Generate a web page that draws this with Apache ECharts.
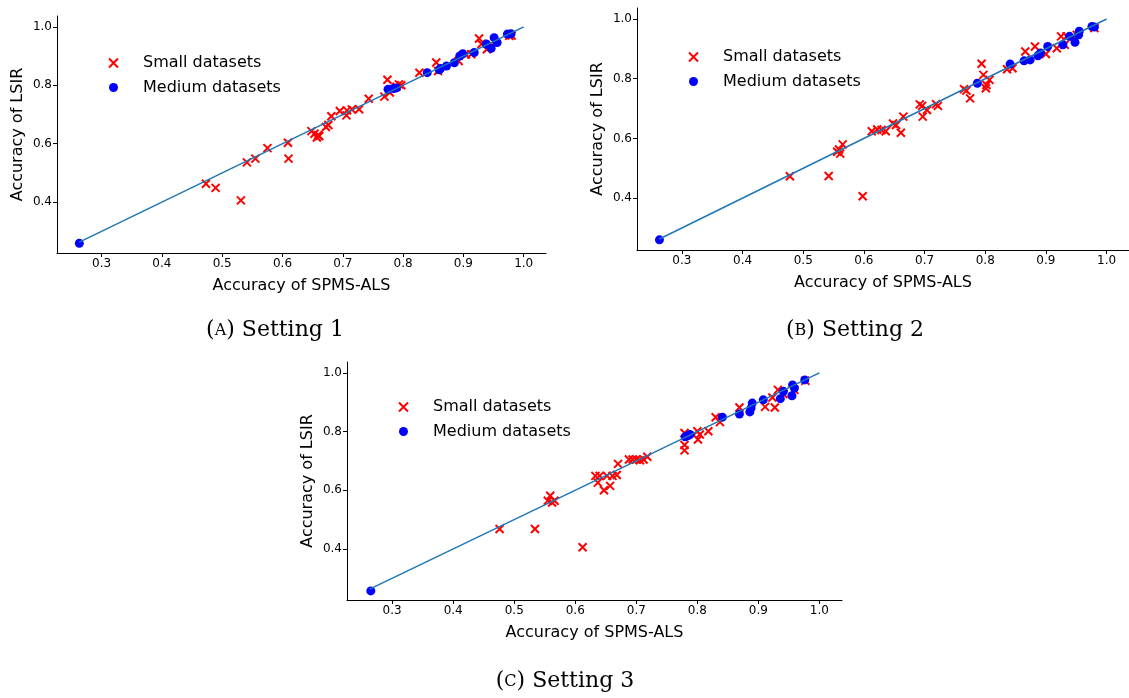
<!DOCTYPE html>
<html>
<head>
<meta charset="utf-8">
<script src="https://cdn.jsdelivr.net/npm/echarts@6/dist/echarts.min.js"></script>
<style>
html,body{margin:0;padding:0;background:#fff;}
#chart{width:1129px;height:698px;}
</style>
</head>
<body>
<div id="chart"></div>
<script>
// ---------- data ----------
const xTicks = [0.3, 0.4, 0.5, 0.6, 0.7, 0.8, 0.9, 1.0];
const yTicks = [0.4, 0.6, 0.8, 1.0];
const legendNames = ['Small datasets', 'Medium datasets'];
const captions = ['Setting 1', 'Setting 2', 'Setting 3'];
const captionLetters = ['A', 'B', 'C'];
const xName = 'Accuracy of SPMS-ALS';
const yName = 'Accuracy of LSIR';
const diagEnds = [0.263, 1.0];

const smallA = [
  [0.473,0.463],[0.489,0.449],[0.531,0.406],[0.541,0.536],[0.555,0.549],[0.575,0.585],
  [0.609,0.603],[0.610,0.549],[0.648,0.643],[0.653,0.634],[0.657,0.621],[0.659,0.629],
  [0.661,0.626],[0.672,0.657],[0.676,0.664],[0.681,0.694],[0.695,0.712],[0.706,0.697],
  [0.707,0.714],[0.715,0.717],[0.727,0.718],[0.743,0.754],[0.769,0.761],[0.774,0.819],
  [0.778,0.775],[0.789,0.795],[0.793,0.803],[0.797,0.800],[0.827,0.843],[0.855,0.878],
  [0.858,0.849],[0.892,0.883],[0.904,0.905],[0.913,0.906],[0.926,0.960],[0.930,0.941],
  [0.939,0.923],[0.945,0.935],[0.976,0.969],[0.980,0.970]
];
const mediumA = [
  [0.263,0.259],[0.775,0.786],[0.784,0.789],[0.789,0.791],[0.840,0.843],[0.860,0.853],
  [0.862,0.857],[0.872,0.866],[0.885,0.877],[0.894,0.900],[0.899,0.908],[0.918,0.912],
  [0.938,0.941],[0.946,0.926],[0.951,0.963],[0.956,0.946],[0.973,0.975],[0.979,0.976]
];
const smallB = [
  [0.478,0.473],[0.542,0.474],[0.598,0.406],[0.556,0.555],[0.561,0.549],[0.565,0.580],
  [0.559,0.563],[0.613,0.624],[0.622,0.630],[0.629,0.628],[0.636,0.624],[0.648,0.650],
  [0.653,0.645],[0.661,0.619],[0.665,0.673],[0.692,0.714],[0.696,0.709],[0.697,0.673],
  [0.704,0.695],[0.719,0.715],[0.722,0.709],[0.765,0.765],[0.769,0.760],[0.775,0.734],
  [0.794,0.850],[0.797,0.813],[0.802,0.779],[0.801,0.768],[0.807,0.796],[0.836,0.832],
  [0.845,0.835],[0.866,0.891],[0.882,0.908],[0.900,0.883],[0.918,0.902],[0.925,0.942],
  [0.931,0.914],[0.934,0.942],[0.951,0.947],[0.980,0.970]
];
const mediumB = [
  [0.263,0.260],[0.787,0.785],[0.841,0.849],[0.864,0.860],[0.874,0.863],[0.887,0.877],
  [0.891,0.886],[0.903,0.908],[0.928,0.914],[0.939,0.942],[0.948,0.922],[0.955,0.959],
  [0.954,0.947],[0.976,0.975],[0.980,0.973]
];
const smallC = [
  [0.476,0.468],[0.534,0.468],[0.612,0.406],[0.555,0.564],[0.559,0.581],[0.562,0.558],
  [0.566,0.564],[0.633,0.649],[0.637,0.626],[0.640,0.649],[0.647,0.600],[0.652,0.649],
  [0.657,0.615],[0.661,0.649],[0.668,0.652],[0.670,0.690],[0.688,0.705],[0.694,0.705],
  [0.700,0.705],[0.706,0.702],[0.712,0.705],[0.718,0.714],[0.779,0.795],[0.779,0.754],
  [0.779,0.736],[0.800,0.801],[0.801,0.773],[0.804,0.790],[0.818,0.801],[0.830,0.849],
  [0.837,0.832],[0.869,0.882],[0.911,0.884],[0.923,0.916],[0.927,0.882],[0.932,0.942],
  [0.941,0.928],[0.959,0.942],[0.977,0.973]
];
const mediumC = [
  [0.265,0.257],[0.780,0.782],[0.785,0.786],[0.788,0.790],[0.841,0.849],[0.869,0.860],
  [0.886,0.867],[0.888,0.880],[0.890,0.897],[0.908,0.908],[0.936,0.912],[0.941,0.937],
  [0.955,0.922],[0.956,0.959],[0.959,0.948],[0.976,0.976]
];

// ---------- layout ----------
const panels = [
  {small: smallA, medium: mediumA, grid: {left: 57, top: 16, width: 489, height: 237},
   xGap: 25, yGap: 31, legend: {left: 103, top: 50}, cap: {x: 275, y: 330}},
  {small: smallB, medium: mediumB, grid: {left: 637, top: 8, width: 492, height: 242},
   xGap: 25, yGap: 31, legend: {left: 683, top: 44}, cap: {x: 855, y: 330}},
  {small: smallC, medium: mediumC, grid: {left: 347, top: 362, width: 495, height: 238},
   xGap: 25, yGap: 31, legend: {left: 393, top: 394}, cap: {x: 565, y: 681}}
];

const FONT = 'DejaVu Sans';
const crossPath = 'path://M0,0L10,10M10,0L0,10';

const grids = [], xAxes = [], yAxes = [], series = [], legends = [], graphics = [];
const fmt = v => Number(v).toFixed(1);

panels.forEach((p, i) => {
  grids.push(Object.assign({containLabel: false}, p.grid));
  xAxes.push({
    type: 'value', gridIndex: i, min: 0.226, max: 1.037,
    name: xName, nameLocation: 'middle', nameGap: p.xGap,
    nameTextStyle: {fontFamily: FONT, fontSize: 16, color: '#000'},
    axisLine: {show: true, onZero: false, lineStyle: {color: '#000', width: 1}},
    axisTick: {show: true, customValues: xTicks, length: 4, lineStyle: {color: '#000', width: 1}},
    axisLabel: {customValues: xTicks, formatter: fmt, fontFamily: FONT, fontSize: 12, color: '#000', margin: 5},
    splitLine: {show: false}
  });
  yAxes.push({
    type: 'value', gridIndex: i, min: 0.226, max: 1.037,
    name: yName, nameLocation: 'middle', nameGap: p.yGap,
    nameTextStyle: {fontFamily: FONT, fontSize: 16, color: '#000'},
    axisLine: {show: true, onZero: false, lineStyle: {color: '#000', width: 1}},
    axisTick: {show: true, customValues: yTicks, length: 4, lineStyle: {color: '#000', width: 1}},
    axisLabel: {customValues: yTicks, formatter: fmt, fontFamily: FONT, fontSize: 12, color: '#000', margin: 5},
    splitLine: {show: false}
  });
  series.push({
    name: legendNames[0], type: 'scatter', xAxisIndex: i, yAxisIndex: i,
    data: p.small, symbol: crossPath, symbolSize: 8, z: 2,
    itemStyle: {color: '#ff0000', borderColor: '#ff0000', borderWidth: 2, opacity: 1},
    emphasis: {disabled: true}
  });
  series.push({
    name: legendNames[1], type: 'scatter', xAxisIndex: i, yAxisIndex: i,
    data: p.medium, symbol: 'circle', symbolSize: 9, z: 3,
    itemStyle: {color: '#0000ff', borderWidth: 0, opacity: 1},
    emphasis: {disabled: true}
  });
  series.push({
    type: 'line', xAxisIndex: i, yAxisIndex: i,
    data: [[diagEnds[0], diagEnds[0]], [diagEnds[1], diagEnds[1]]],
    showSymbol: false, symbol: 'none', z: 4,
    lineStyle: {color: '#1f77b4', width: 1.5},
    emphasis: {disabled: true}, silent: true
  });
  legends.push({
    orient: 'vertical', left: p.legend.left, top: p.legend.top,
    itemWidth: 9, itemHeight: 9, itemGap: 8.5, selectedMode: false,
    data: [
      {name: legendNames[0], icon: crossPath, itemStyle: {color: '#ff0000', borderColor: '#ff0000', borderWidth: 2}},
      {name: legendNames[1], icon: 'circle', itemStyle: {color: '#0000ff', borderWidth: 0}}
    ],
    textStyle: {fontFamily: FONT, fontSize: 16, color: '#000', padding: [0, 0, 0, 20]}
  });
  graphics.push({
    type: 'text', x: p.cap.x, y: p.cap.y, silent: true,
    style: {
      text: '({sc|' + captionLetters[i] + '}) ' + captions[i],
      font: '22px "DejaVu Serif"', fill: '#000',
      align: 'center', verticalAlign: 'middle',
      rich: {sc: {font: '16px "DejaVu Serif"', fill: '#000', verticalAlign: 'bottom', padding: [0, 0, 2, 0]}}
    }
  });
});

const chart = echarts.init(document.getElementById('chart'), null, {renderer: 'canvas'});
chart.setOption({
  animation: false,
  backgroundColor: '#fff',
  grid: grids, xAxis: xAxes, yAxis: yAxes, series: series,
  legend: legends, graphic: graphics,
  tooltip: {show: false}
});
</script>
</body>
</html>
